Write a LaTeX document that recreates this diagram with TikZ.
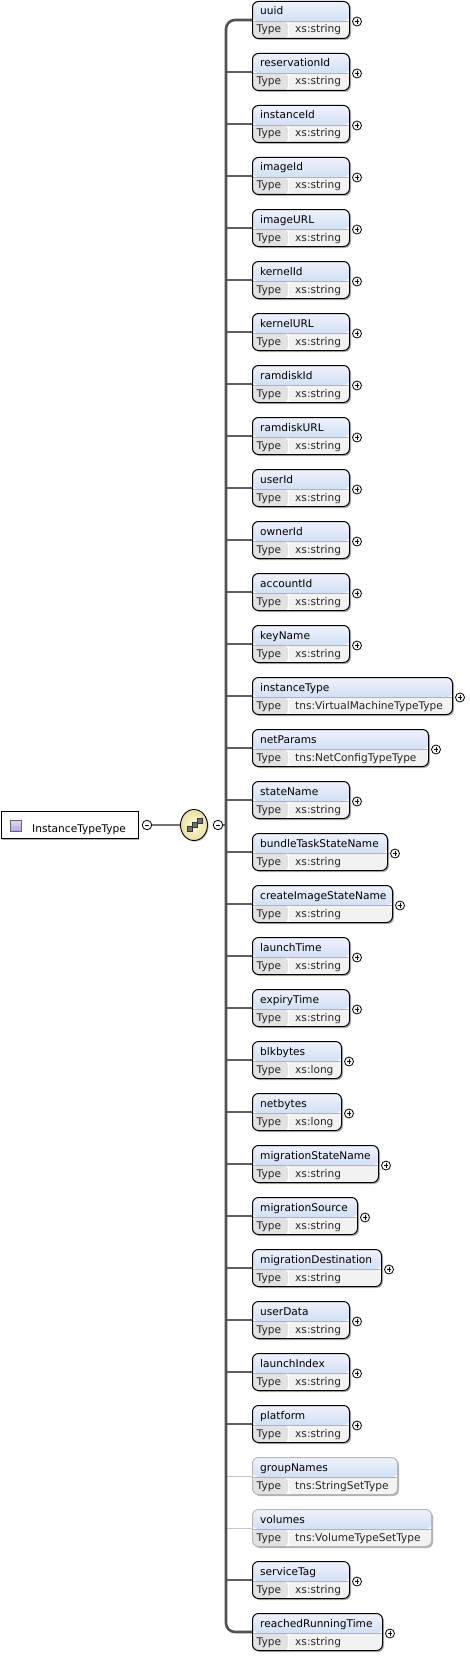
\documentclass[tikz,border=0pt]{standalone}
\usepackage{fontspec}
\setmainfont{DejaVu Sans}
\usetikzlibrary{shadows,shapes.geometric}
\definecolor{hdtop}{HTML}{EEF3FC}
\definecolor{hdbot}{HTML}{B9CDEF}
\definecolor{tcell}{HTML}{E2E2E2}
\definecolor{vcell}{HTML}{F2F2F2}
\definecolor{seqin}{HTML}{FDFADA}
\definecolor{seqout}{HTML}{E9E0A2}
\definecolor{icotop}{HTML}{E4DAF6}
\definecolor{icobot}{HTML}{B6A3E0}
\tikzset{
  cell/.style={draw=black, line width=1pt, rounded corners=6pt, inner sep=0pt,
    anchor=north west, minimum height=37pt, fill=white,
    drop shadow={shadow xshift=1.5pt, shadow yshift=-1.5pt, fill=black, opacity=.3},
    path picture={
      \shade[top color=hdtop, bottom color=hdbot] (path picture bounding box.north west) rectangle ([yshift=-19.5pt]path picture bounding box.north east);
      \fill[tcell] ([yshift=-19.5pt]path picture bounding box.north west) rectangle ([xshift=36pt]path picture bounding box.south west);
      \fill[vcell] ([xshift=36pt,yshift=-19.5pt]path picture bounding box.north west) rectangle (path picture bounding box.south east);
      \draw[white, line width=.9pt] ([xshift=36pt,yshift=-19.5pt]path picture bounding box.north west) -- ([xshift=36pt]path picture bounding box.south west);
      \draw[black!30, line width=.5pt] ([yshift=-19.5pt]path picture bounding box.north west) -- ([yshift=-19.5pt]path picture bounding box.north east);
    }},
  box0/.style={cell},
  box1/.style={cell, draw=black!28},
  nm/.style={inner sep=0pt, anchor=base west, text=black},
  tp/.style={inner sep=0pt, anchor=base west, text=black!85},
  branch0/.style={draw=black!62, line width=2pt},
  branch1/.style={draw=black!22, line width=.9pt},
  spine/.style={draw=black!68, line width=2.6pt},
  link/.style={draw=black!55, line width=1.2pt},
  plusc/.style={circle, draw=black, line width=.8pt, fill=white, minimum size=9pt, inner sep=0pt,
    path picture={
      \draw[line width=.7pt] ([xshift=-2.4pt]path picture bounding box.center) -- ([xshift=2.4pt]path picture bounding box.center);
      \draw[line width=.7pt] ([yshift=-2.4pt]path picture bounding box.center) -- ([yshift=2.4pt]path picture bounding box.center);
    }},
  minusc/.style={circle, draw=black, line width=.8pt, fill=white, minimum size=9.5pt, inner sep=0pt,
    path picture={
      \draw[line width=.7pt] ([xshift=-2.4pt]path picture bounding box.center) -- ([xshift=2.4pt]path picture bounding box.center);
    }},
  rootbox/.style={draw=black, line width=.9pt, fill=white, inner sep=0pt, anchor=north west,
    minimum width=137pt, minimum height=27pt,
    drop shadow={shadow xshift=1.5pt, shadow yshift=-1.5pt, fill=black, opacity=.3}},
  seqshape/.style={ellipse, draw=black, line width=.9pt, inner color=seqin, outer color=seqout,
    minimum width=27pt, minimum height=31pt, inner sep=0pt,
    drop shadow={shadow xshift=1.2pt, shadow yshift=-1.2pt, fill=black, opacity=.25}},
}
\begin{document}
\begin{tikzpicture}[x=1pt, y=-1pt, font=\fontsize{10.6}{12}\selectfont]
\useasboundingbox (0,0) rectangle (469,1656);
\fill[white] (0,0) rectangle (469,1656);

% root element
\node[rootbox] (root) at (0.5,811) {};
\node[draw=black!60, line width=.6pt, top color=icotop, bottom color=icobot, minimum size=11pt, inner sep=0pt] (rooticon) at (16,825.5) {};
\node[nm] (roottext) at (32,832) {InstanceTypeType};
\node[minusc] (rminus) at (147,825) {};

% sequence compositor
\node[seqshape] (seq) at (194,825) {};
\node[fill=black!55, draw=black!80, line width=.4pt, minimum width=5pt, minimum height=4.5pt, inner sep=0pt] (sq1) at (189.5,828.5) {};
\node[fill=black!55, draw=black!80, line width=.4pt, minimum width=5pt, minimum height=4.5pt, inner sep=0pt] (sq2) at (195,824.5) {};
\node[fill=black!55, draw=black!80, line width=.4pt, minimum width=5pt, minimum height=4.5pt, inner sep=0pt] (sq3) at (199.5,820.5) {};
\draw[black!80, line width=.8pt] (sq1) -- (sq2) -- (sq3);
\node[minusc] (sminus) at (218,825) {};
\coordinate (spx) at (226,825);

\draw[link] (rminus) -- (seq);
\draw[link] (sminus) -- (spx);

\foreach \n/\t/\r/\o [count=\i from 0] in {
  uuid/xs:string/349/0,
  reservationId/xs:string/349/0,
  instanceId/xs:string/349/0,
  imageId/xs:string/349/0,
  imageURL/xs:string/349/0,
  kernelId/xs:string/349/0,
  kernelURL/xs:string/349/0,
  ramdiskId/xs:string/349/0,
  ramdiskURL/xs:string/349/0,
  userId/xs:string/349/0,
  ownerId/xs:string/349/0,
  accountId/xs:string/349/0,
  keyName/xs:string/349/0,
  instanceType/tns:VirtualMachineTypeType/452/0,
  netParams/tns:NetConfigTypeType/428/0,
  stateName/xs:string/349/0,
  bundleTaskStateName/xs:string/387/0,
  createImageStateName/xs:string/392/0,
  launchTime/xs:string/349/0,
  expiryTime/xs:string/349/0,
  blkbytes/xs:long/341/0,
  netbytes/xs:long/341/0,
  migrationStateName/xs:string/378/0,
  migrationSource/xs:string/357/0,
  migrationDestination/xs:string/381/0,
  userData/xs:string/349/0,
  launchIndex/xs:string/349/0,
  platform/xs:string/349/0,
  groupNames/tns:StringSetType/397/1,
  volumes/tns:VolumeTypeSetType/431/1,
  serviceTag/xs:string/349/0,
  reachedRunningTime/xs:string/382/0}
{
  \pgfmathsetmacro\tp{1+52*\i}
  \pgfmathsetmacro\w{\r-252}
  \node[box\o, minimum width=\w pt] (b\i) at (252,\tp) {};
  \node[nm] (n\i) at (260,{\tp+14}) {\n};
  \node[tp] (ty\i) at (256.5,{\tp+32}) {Type};
  \node[tp] (v\i) at (295,{\tp+32}) {\t};
  \ifnum\o=0
    \node[plusc] (p\i) at ([xshift=7pt,yshift=-1.5pt]b\i.east) {};
  \fi
  \ifnum\i>0 \ifnum\i<31
    \draw[branch\o] (spx |- b\i.west) -- (b\i.west);
  \fi\fi
}
\draw[spine, rounded corners=9pt] (b0.west) -| (spx |- b31.west) -- (b31.west);
\end{tikzpicture}
\end{document}
